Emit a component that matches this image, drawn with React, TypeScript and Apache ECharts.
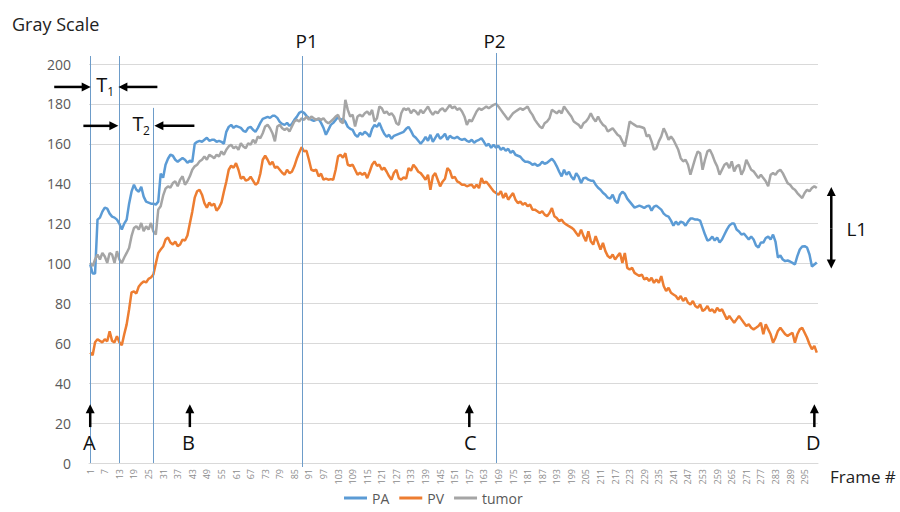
import React, { useEffect, useRef } from "react";
import * as echarts from "echarts";

// Frame numbers (categories)
const frames: string[] = Array.from({ length: 300 }, (_, i) => String(i + 1));

const paValues = [
  99.5, 95, 95, 122, 123, 126, 128, 127.5, 125, 123.5,
  123, 122, 120, 117, 120, 122, 130, 136, 139.5, 137,
  136, 138.5, 133.5, 131, 130.5, 130, 130, 129.5, 131, 145,
  143, 149.5, 152.5, 154.5, 154, 152, 151, 152, 152.8, 152,
  150.5, 151.5, 151, 160, 161, 161.5, 161, 162, 163, 161.5,
  162, 162, 161, 161.5, 161, 160, 166, 168.5, 169.5, 168,
  169, 168.5, 168, 166.5, 166, 168, 168.5, 167, 166, 168,
  170.5, 172.5, 173, 173.5, 173, 174, 174, 173, 171, 170,
  169.5, 170.5, 169, 170, 172, 173.5, 175.5, 176.2, 175.5, 174,
  173, 172, 171.5, 172, 172.5, 170.5, 168, 164.5, 167, 169.5,
  170.5, 172, 173.5, 172, 172.5, 171, 168.5, 167.5, 167, 164.5,
  163.5, 165.5, 164.5, 166, 165, 163.5, 167.5, 169.5, 168.5, 170.5,
  167.5, 165, 163.5, 164.5, 162.5, 164, 164.5, 165, 165.5, 166,
  167.5, 168.5, 166.5, 164, 163, 161.5, 160, 161.5, 163.5, 161.5,
  164.5, 161, 163, 165, 162.5, 163.5, 165, 162, 164, 163,
  162.8, 163.5, 162.5, 162, 162.5, 161.5, 161, 162, 160.5, 161.5,
  162, 162.8, 161, 159, 160, 158, 159.5, 158, 159, 157,
  158, 156.5, 157.5, 155.5, 156.5, 154.5, 154, 153.5, 152, 151,
  151, 150.5, 149.5, 150, 149, 149.5, 151, 150, 150.5, 151.5,
  152.5, 151, 148.7, 146, 143.7, 147, 144.5, 146, 143.5, 142,
  145.3, 143.5, 140.3, 142.8, 143, 142, 141.5, 141.5, 139.5, 138,
  137, 135.5, 134.5, 133, 132.5, 134.5, 131.5, 130.3, 134.5, 136,
  135, 132.5, 131, 129.5, 128, 128.5, 129, 128.5, 127.8, 128.7,
  129, 126.5, 128.5, 129, 128, 127, 125, 124, 123.5, 121.5,
  119, 121, 119.5, 121, 120.5, 119, 121, 122.5, 122.5, 122,
  122, 121.5, 118, 114.5, 111.5, 112, 113.5, 111.5, 113, 110.5,
  112, 114.5, 117, 119, 120, 120, 117, 116, 114.5, 115,
  113.5, 112, 113.5, 112, 109, 108, 110.5, 110.5, 112.8, 113.5,
  112, 114.5, 111, 103, 104, 102, 101.2, 101.5, 101, 100.3,
  99.5, 103.7, 107, 108.5, 108.7, 108, 104.5, 98.5, 99.5, 100.5,
];

const pvValues = [
  55.3, 54, 60.5, 62, 61.2, 60.5, 62, 61, 66, 61.2,
  60.5, 63.5, 60.5, 59, 64.5, 69.5, 77, 85.5, 86, 85,
  88.5, 90, 91, 90.5, 92.3, 93, 94.5, 100, 105.3, 107,
  108.5, 112, 113, 110.5, 109.5, 111, 108.7, 109.5, 112, 111.5,
  114, 120, 126, 133, 136.2, 137, 134.5, 130.3, 128, 130.5,
  129, 130, 126.5, 128, 130.5, 136, 141, 147, 149, 148,
  150.3, 147, 142.5, 143.5, 141.5, 142, 143.5, 141.5, 139.5, 140.5,
  145, 152, 154, 152, 149.5, 151, 148, 148.5, 147, 145.5,
  144.5, 147, 145.3, 146, 148.7, 152.5, 155.5, 158.3, 156.2, 156.5,
  152, 147, 146.5, 147, 143.7, 145, 142, 142.5, 142, 142.3,
  142, 147, 153.7, 154.5, 153, 155.3, 149.5, 149, 149.5, 147,
  144.5, 145.5, 144.5, 145.5, 142.8, 146, 149.5, 151.2, 149, 149.5,
  147, 148, 146, 143.7, 142, 145.5, 147, 142.8, 142, 143.2,
  142.5, 147.8, 146.5, 149.5, 148, 146, 145.3, 143.7, 142, 144.5,
  137, 143.7, 145.3, 142, 138.7, 141, 142.5, 147.8, 146.5, 142.8,
  143.5, 141.2, 140.5, 139.5, 139.5, 138.7, 139.2, 139.5, 137.8, 139.5,
  137.8, 142.8, 140.3, 141, 139.5, 137.8, 136.2, 135.3, 134.5, 136.2,
  132.8, 135.3, 132, 133.7, 135.3, 132, 130.3, 131, 129.5, 130.3,
  128.7, 129.5, 127, 127, 126.2, 125.3, 126.2, 124.5, 123.7, 125.3,
  127.8, 123.7, 122.8, 121.2, 122, 120.3, 119.5, 118.7, 118, 117,
  115.3, 113.7, 117, 113.7, 111.2, 116.2, 111.2, 109.5, 113.7, 110.3,
  107, 110.3, 106.2, 103.7, 102.8, 104.5, 102, 103.7, 105.3, 100.3,
  105.3, 97.8, 97, 97.8, 95.3, 94.5, 93.7, 94.5, 92, 92.8,
  91.2, 92.8, 90.3, 92, 90.3, 93.7, 88.7, 86.2, 87.8, 85.3,
  84.5, 83.7, 82, 83.7, 81.2, 82.8, 80.3, 79.5, 81.2, 78.7,
  77.8, 79.5, 76.2, 77, 78.7, 76.2, 77, 75.3, 77.8, 76.2,
  77, 74.5, 72, 73.7, 72, 70.3, 72, 73.7, 72, 70.3,
  68.7, 69.5, 67.8, 67, 67.8, 68.7, 70.3, 64.5, 69.5, 67,
  64.5, 60.3, 62.8, 66.2, 67.8, 66.2, 64.5, 63.7, 64.5, 65.3,
  60.3, 64.5, 67, 67.8, 65.3, 62.8, 59.5, 57, 58.7, 55.3,
];

const tumorValues = [
  100.3, 98.7, 102, 104.5, 102, 105.3, 103.5, 100.3, 105.3, 104.5,
  100.3, 106.2, 102, 100.3, 103, 105.3, 107.8, 113.7, 117.8, 118.7,
  117, 120.3, 116.2, 118.7, 117, 120.3, 116, 114.5, 127, 128.7,
  134, 137.5, 138.7, 138, 140.3, 141.2, 138.7, 142, 143.7, 139.5,
  141.2, 143.7, 147, 148.7, 149.5, 151.2, 152, 153.7, 152, 154.5,
  153.7, 152.8, 154.5, 153.7, 156.2, 154.5, 157, 158.7, 159.5, 157.8,
  158.7, 157, 160.3, 158.7, 157.8, 160.3, 159.5, 162, 160.3, 163.7,
  162.8, 165.3, 168.7, 169.5, 167.8, 165.3, 161.2, 168.7, 169.5, 167.8,
  167, 167.8, 166.2, 168.7, 171.2, 172, 171.2, 172.8, 172, 173.7,
  172, 173.7, 172.8, 172, 172.8, 172, 172.8, 171.2, 170.3, 171.2,
  172.3, 173.7, 174.5, 171.2, 170.3, 182, 177, 173.7, 174.5, 168.7,
  173.7, 174.5, 173.7, 175.3, 176.2, 174.5, 177, 171.2, 172.8, 178.7,
  177.8, 175.3, 176.2, 174.5, 175.3, 173.7, 170.3, 169.5, 175.3, 177.8,
  177, 177.8, 175.3, 177, 176.2, 174.5, 177, 175.3, 177, 178.7,
  176.2, 174.5, 176.2, 175.3, 177, 177.8, 176.2, 177.8, 179.5, 177.8,
  178.7, 177, 177.8, 176.2, 173.7, 169.5, 172, 171.2, 173.7, 176.2,
  177.8, 177, 177.8, 178.7, 177.8, 178.7, 179.5, 180, 178.7, 177,
  175.3, 173.7, 172, 173.7, 175.3, 176.2, 177, 177.8, 177, 177.8,
  178.7, 176.2, 174.5, 172, 170.3, 168.7, 167.8, 170.3, 171.2, 172.8,
  177, 176.2, 175.3, 176.6, 175.3, 178.7, 177, 175.3, 173.7, 171.2,
  170.3, 169.5, 167.8, 170.3, 171.2, 172.8, 175.3, 172.8, 171.2, 173.7,
  171.2, 169.5, 168.7, 166.2, 167, 167.8, 166.2, 164.5, 163.7, 161.2,
  158.7, 164.5, 171.2, 170.3, 169.5, 168.7, 168.7, 168.3, 167.8, 163.7,
  164.5, 161.2, 157, 157.8, 161.2, 163.7, 167.8, 165.3, 162, 163.7,
  162, 159.5, 157, 152.8, 151.2, 152, 149.5, 144.5, 148.7, 152.8,
  156.2, 155.3, 147, 152, 156.2, 157, 154.5, 151.2, 148.7, 144.5,
  147, 149.5, 150.3, 147.8, 151.2, 146.2, 148.7, 149.5, 144.5, 147,
  152, 149.5, 147, 146.2, 144.5, 142.8, 144.5, 142.8, 141.2, 138.7,
  144.5, 145.3, 144.5, 146.2, 147, 145.3, 142.8, 140.3, 139.5, 137.8,
  137, 135.3, 134, 132.8, 135.3, 137, 136.2, 137.8, 138.7, 137.8,
];

const seriesNames = ["PA", "PV", "tumor"];
const seriesColors = ["#5B9BD5", "#ED7D31", "#A5A5A5"];

// Annotation frames
const frameA = 1;
const frameT1 = 13;
const frameT2 = 27;
const frameP1 = 88;
const frameP2 = 168;
const frameB = 42;
const frameC = 157;
const frameD = 299;

const FONT = "'Open Sans', 'Noto Sans', 'Liberation Sans', sans-serif";

export default function App() {
  const ref = useRef<HTMLDivElement>(null);
  useEffect(() => {
    const chart = echarts.init(ref.current!, null, { renderer: "svg" });
    const data = [paValues, pvValues, tumorValues];
    chart.setOption({
      animation: false,
      backgroundColor: "#ffffff",
      grid: { left: 89, right: 82, top: 64, bottom: 49, containLabel: false },
      legend: {
        top: 490,
        left: 344,
        padding: 0,
        icon: "rect",
        itemWidth: 23,
        itemHeight: 3,
        itemGap: 10,
        textStyle: { color: "#595959", fontSize: 14, fontFamily: FONT, lineHeight: 16 },
        data: seriesNames,
      },
      xAxis: {
        type: "category",
        data: frames,
        boundaryGap: true,
        axisLine: { show: true, lineStyle: { color: "#d9d9d9", width: 1 } },
        axisTick: { show: false },
        axisLabel: {
          interval: 5,
          rotate: 90,
          fontSize: 9,
          color: "#8c8c8c",
          fontFamily: FONT,
          margin: 6,
        },
        splitLine: { show: false },
      },
      yAxis: {
        type: "value",
        min: 0,
        max: 200,
        interval: 20,
        axisLine: { show: false },
        axisTick: { show: false },
        axisLabel: { color: "#595959", fontSize: 14, fontFamily: FONT, margin: 18 },
        splitLine: { lineStyle: { color: "#d9d9d9", width: 1 } },
      },
      series: seriesNames.map((name, i) => ({
        name,
        type: "line",
        data: data[i],
        symbol: "none",
        showSymbol: false,
        lineStyle: { color: seriesColors[i], width: 2.5 },
        itemStyle: { color: seriesColors[i] },
      })),
    });

    const px = (f: number, v: number) =>
      chart.convertToPixel({ gridIndex: 0 }, [f - 1, v]) as number[];
    const yOf = (v: number) => px(1, v)[1];
    const xOf = (f: number) => px(f, 0)[0];

    const black = "#000000";
    const arrow = (x1: number, y1: number, x2: number, y2: number) => {
      const dx = x2 - x1;
      const dy = y2 - y1;
      const len = Math.hypot(dx, dy);
      const ux = dx / len;
      const uy = dy / len;
      const hl = 9;
      const hw = 4.5;
      const bx = x2 - ux * hl;
      const by = y2 - uy * hl;
      return [
        {
          type: "line",
          z: 100,
          shape: { x1, y1, x2: bx + ux * 1, y2: by + uy * 1 },
          style: { stroke: black, lineWidth: 2.5 },
        },
        {
          type: "polygon",
          z: 100,
          shape: {
            points: [
              [x2, y2],
              [bx - uy * hw, by + ux * hw],
              [bx + uy * hw, by - ux * hw],
            ],
          },
          style: { fill: black },
        },
      ];
    };
    const vline = (f: number, topV: number, botV: number) => {
      const x = Math.round(xOf(f)) + 0.5;
      return {
        type: "line",
        z: 90,
        shape: { x1: x, y1: yOf(topV), x2: x, y2: yOf(botV) },
        style: { stroke: "#6d9cc9", lineWidth: 1 },
      };
    };
    const text = (
      t: string,
      x: number,
      y: number,
      size: number,
      align = "center",
      color = "#111111"
    ) => ({
      type: "text",
      z: 100,
      x,
      y,
      style: {
        text: t,
        fontSize: size,
        fontFamily: FONT,
        fill: color,
        align,
        verticalAlign: "middle",
      },
    });

    const xA = xOf(frameA);
    const xT1 = xOf(frameT1);
    const xP1 = xOf(frameP1);
    const xP2 = xOf(frameP2);
    const xT2 = xOf(frameT2);
    const xLast = xOf(300);
    const rowT1 = yOf(188.5);
    const rowT2 = yOf(169);
    const upTip = yOf(29.5);
    const upTail = yOf(18);
    const letterY = yOf(10.5);
    const pLabelY = yOf(211.5);
    const xL1 = xLast + 14.5;

    const elements: any[] = [
      vline(frameA, 204, 0),
      vline(frameT1, 204, 0),
      vline(frameT2, 178, 0),
      vline(frameP1, 204, -2),
      vline(frameP2, 205.5, 0),
      ...arrow(xA - 36, rowT1, xA + 0.5, rowT1),
      ...arrow(xT1 + 38, rowT1, xT1 - 1, rowT1),
      ...arrow(xT1 - 36, rowT2, xT1 - 1, rowT2),
      ...arrow(xT2 + 41, rowT2, xT2 + 1, rowT2),
      text("T", xA + 6, yOf(189.5), 20, "left"),
      text("1", xA + 17, yOf(186), 12, "left"),
      text("T", xT1 + 13, yOf(170), 20, "left"),
      text("2", xT1 + 23.5, yOf(166.5), 12, "left"),
      text("P1", xP1 + 5, pLabelY, 19),
      text("P2", xP2 - 1.5, pLabelY, 19),
      ...arrow(xA, upTail, xA, upTip),
      ...arrow(xOf(frameB), upTail, xOf(frameB), upTip),
      ...arrow(xOf(frameC), upTail, xOf(frameC), upTip),
      ...arrow(xOf(frameD), upTail, xOf(frameD), upTip),
      text("A", xA - 1, letterY, 20),
      text("B", xOf(frameB) - 1.5, letterY, 20),
      text("C", xOf(frameC) + 1, letterY, 20),
      text("D", xOf(frameD) - 1, letterY, 20),
      ...arrow(xL1, yOf(117.5), xL1, yOf(138.3)),
      ...arrow(xL1, yOf(117.5), xL1, yOf(97.5)),
      text("L1", xL1 + 25.5, yOf(117.5), 19),
      text("Gray Scale", 12, 24, 18, "left", "#222222"),
      text("Frame #", 830, 476, 17, "left", "#222222"),
    ];
    chart.setOption({ graphic: { elements } });

    return () => chart.dispose();
  }, []);
  return (
    <div
      ref={ref}
      style={{ position: "fixed", left: 0, top: 0, width: 900, height: 512, background: "#fff" }}
    />
  );
}
